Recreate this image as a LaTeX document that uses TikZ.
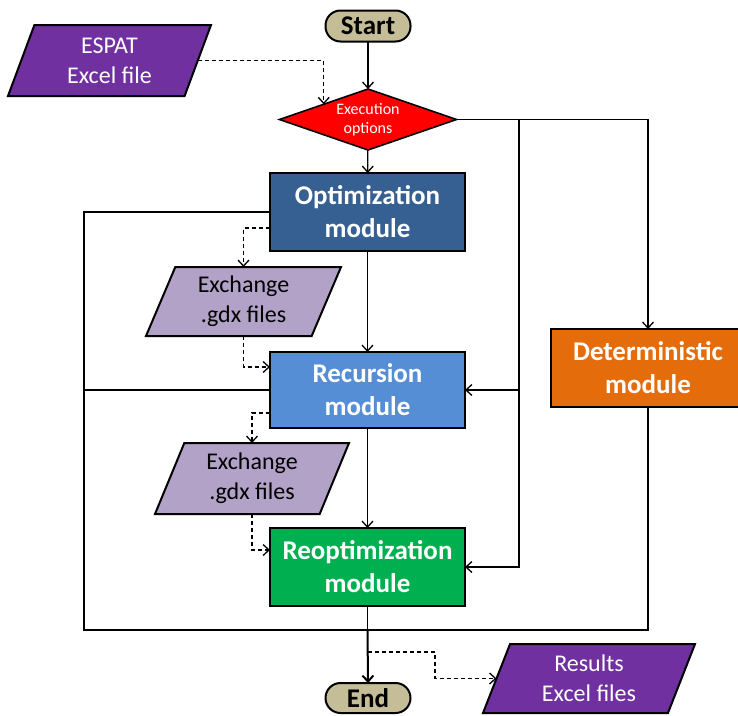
\documentclass[tikz,border=0pt]{standalone}
\usepackage{fontspec}
\setmainfont{Carlito}
\usetikzlibrary{shapes.geometric,arrows.meta}

\definecolor{tanfill}{HTML}{C4BD97}
\definecolor{optblue}{HTML}{376092}
\definecolor{recblue}{HTML}{558ED5}
\definecolor{reoptgreen}{HTML}{00B050}
\definecolor{detorange}{HTML}{E46C0A}
\definecolor{filepurple}{HTML}{7030A0}
\definecolor{gdxlilac}{HTML}{B3A2C7}

\tikzset{
  every node/.style={inner sep=0pt, outer sep=0pt, align=center},
  terminal/.style={draw=black, line width=2pt, fill=tanfill, rounded corners=15pt,
    minimum width=85pt, minimum height=31pt, font=\fontsize{27}{33}\selectfont\bfseries},
  module/.style={draw=black, line width=2pt, fill=#1, text=white,
    minimum width=195pt, minimum height=78pt, font=\fontsize{27}{33}\selectfont\bfseries},
  datafile/.style={draw=black, line width=2pt, fill=#1, trapezium,
    trapezium left angle=60, trapezium right angle=120, trapezium stretches body,
    minimum height=70pt, font=\fontsize{24}{30}\selectfont},
  decision/.style={draw=black, line width=1.6pt, fill=red, diamond, aspect=2.9,
    minimum width=177pt, minimum height=61pt, text=white,
    font=\fontsize{16}{19}\selectfont},
  flow/.style={line width=1.3pt, -{Straight Barb[length=6pt,width=11pt]}},
  link/.style={line width=1.3pt},
  datalink/.style={line width=1.3pt, dash pattern=on 4pt off 3pt,
    -{Straight Barb[length=6pt,width=11pt]}},
}

\begin{document}
\begin{tikzpicture}[x=1pt,y=-1pt]
\useasboundingbox (0,0) rectangle (738,715);

% process chain
\node[terminal] (start) at (368,26) {Start};
\node[decision] (diam) at (368,119.5) {Execution\\options};
\node[module=optblue] (opt) at (367.5,212) {Optimization\\module};
\node[module=recblue, minimum height=76pt] (rec) at (367.5,390) {Recursion\\module};
\node[module=reoptgreen] (reopt) at (367.5,567) {Reoptimization\\module};
\node[module=detorange, minimum width=194pt] (det) at (648,368) {Deterministic\\module};
\node[terminal, minimum height=30pt] (end) at (368,698) {End};

% data files
\node[datafile=filepurple, text=white, minimum width=203pt, minimum height=71pt] (espat) at (109.5,60.5) {ESPAT\\Excel file};
\node[datafile=gdxlilac, minimum width=195pt, minimum height=69pt] (ex1) at (243.5,301.5) {Exchange\\.gdx files};
\node[datafile=gdxlilac, minimum width=194pt, minimum height=71pt] (ex2) at (252,478.5) {Exchange\\.gdx files};
\node[datafile=filepurple, text=white, minimum width=212pt, minimum height=69pt] (results) at (589,678.5) {Results\\Excel files};

% routing points
\coordinate (lt) at (84,212);
\coordinate (lb) at (84,630);
\coordinate (rb) at (648,630);
\coordinate (br) at (519,119.5);
\coordinate (tap) at (368,652);
\coordinate (rk) at (435,652);

% main flow
\draw[flow] (start) -- (diam);
\draw[flow] (diam) -- (opt);
\draw[flow] (opt) -- (rec);
\draw[flow] (rec) -- (reopt);
\draw[link] (reopt.south) -- (reopt.south |- lb);
\draw[flow, line width=2pt] (reopt.south |- lb) -- (end.north);

% branches from the decision
\draw[flow] (diam.east) -| (det.north);
\draw[flow] (br) |- (rec.east);
\draw[flow] (br) |- (reopt.east);

% feedback loop
\draw[link] (opt.west) -- (lt) -- (lb) -- (rb) -- (det.south);
\draw[link] (rec.west) -- (rec.west -| lt);

% data exchange
\draw[datalink] (espat.east) -| (diam.north west);
\draw[datalink] ([yshift=-16pt]opt.west) -| (ex1.north);
\draw[datalink] (ex1.south) |- ([yshift=23pt]rec.west);
\draw[datalink] ([yshift=-23pt]rec.west) -| (ex2.north);
\draw[datalink] (ex2.south) |- ([yshift=17pt]reopt.west);
\draw[datalink] (tap) -- (rk) |- (results.west);
\end{tikzpicture}
\end{document}
